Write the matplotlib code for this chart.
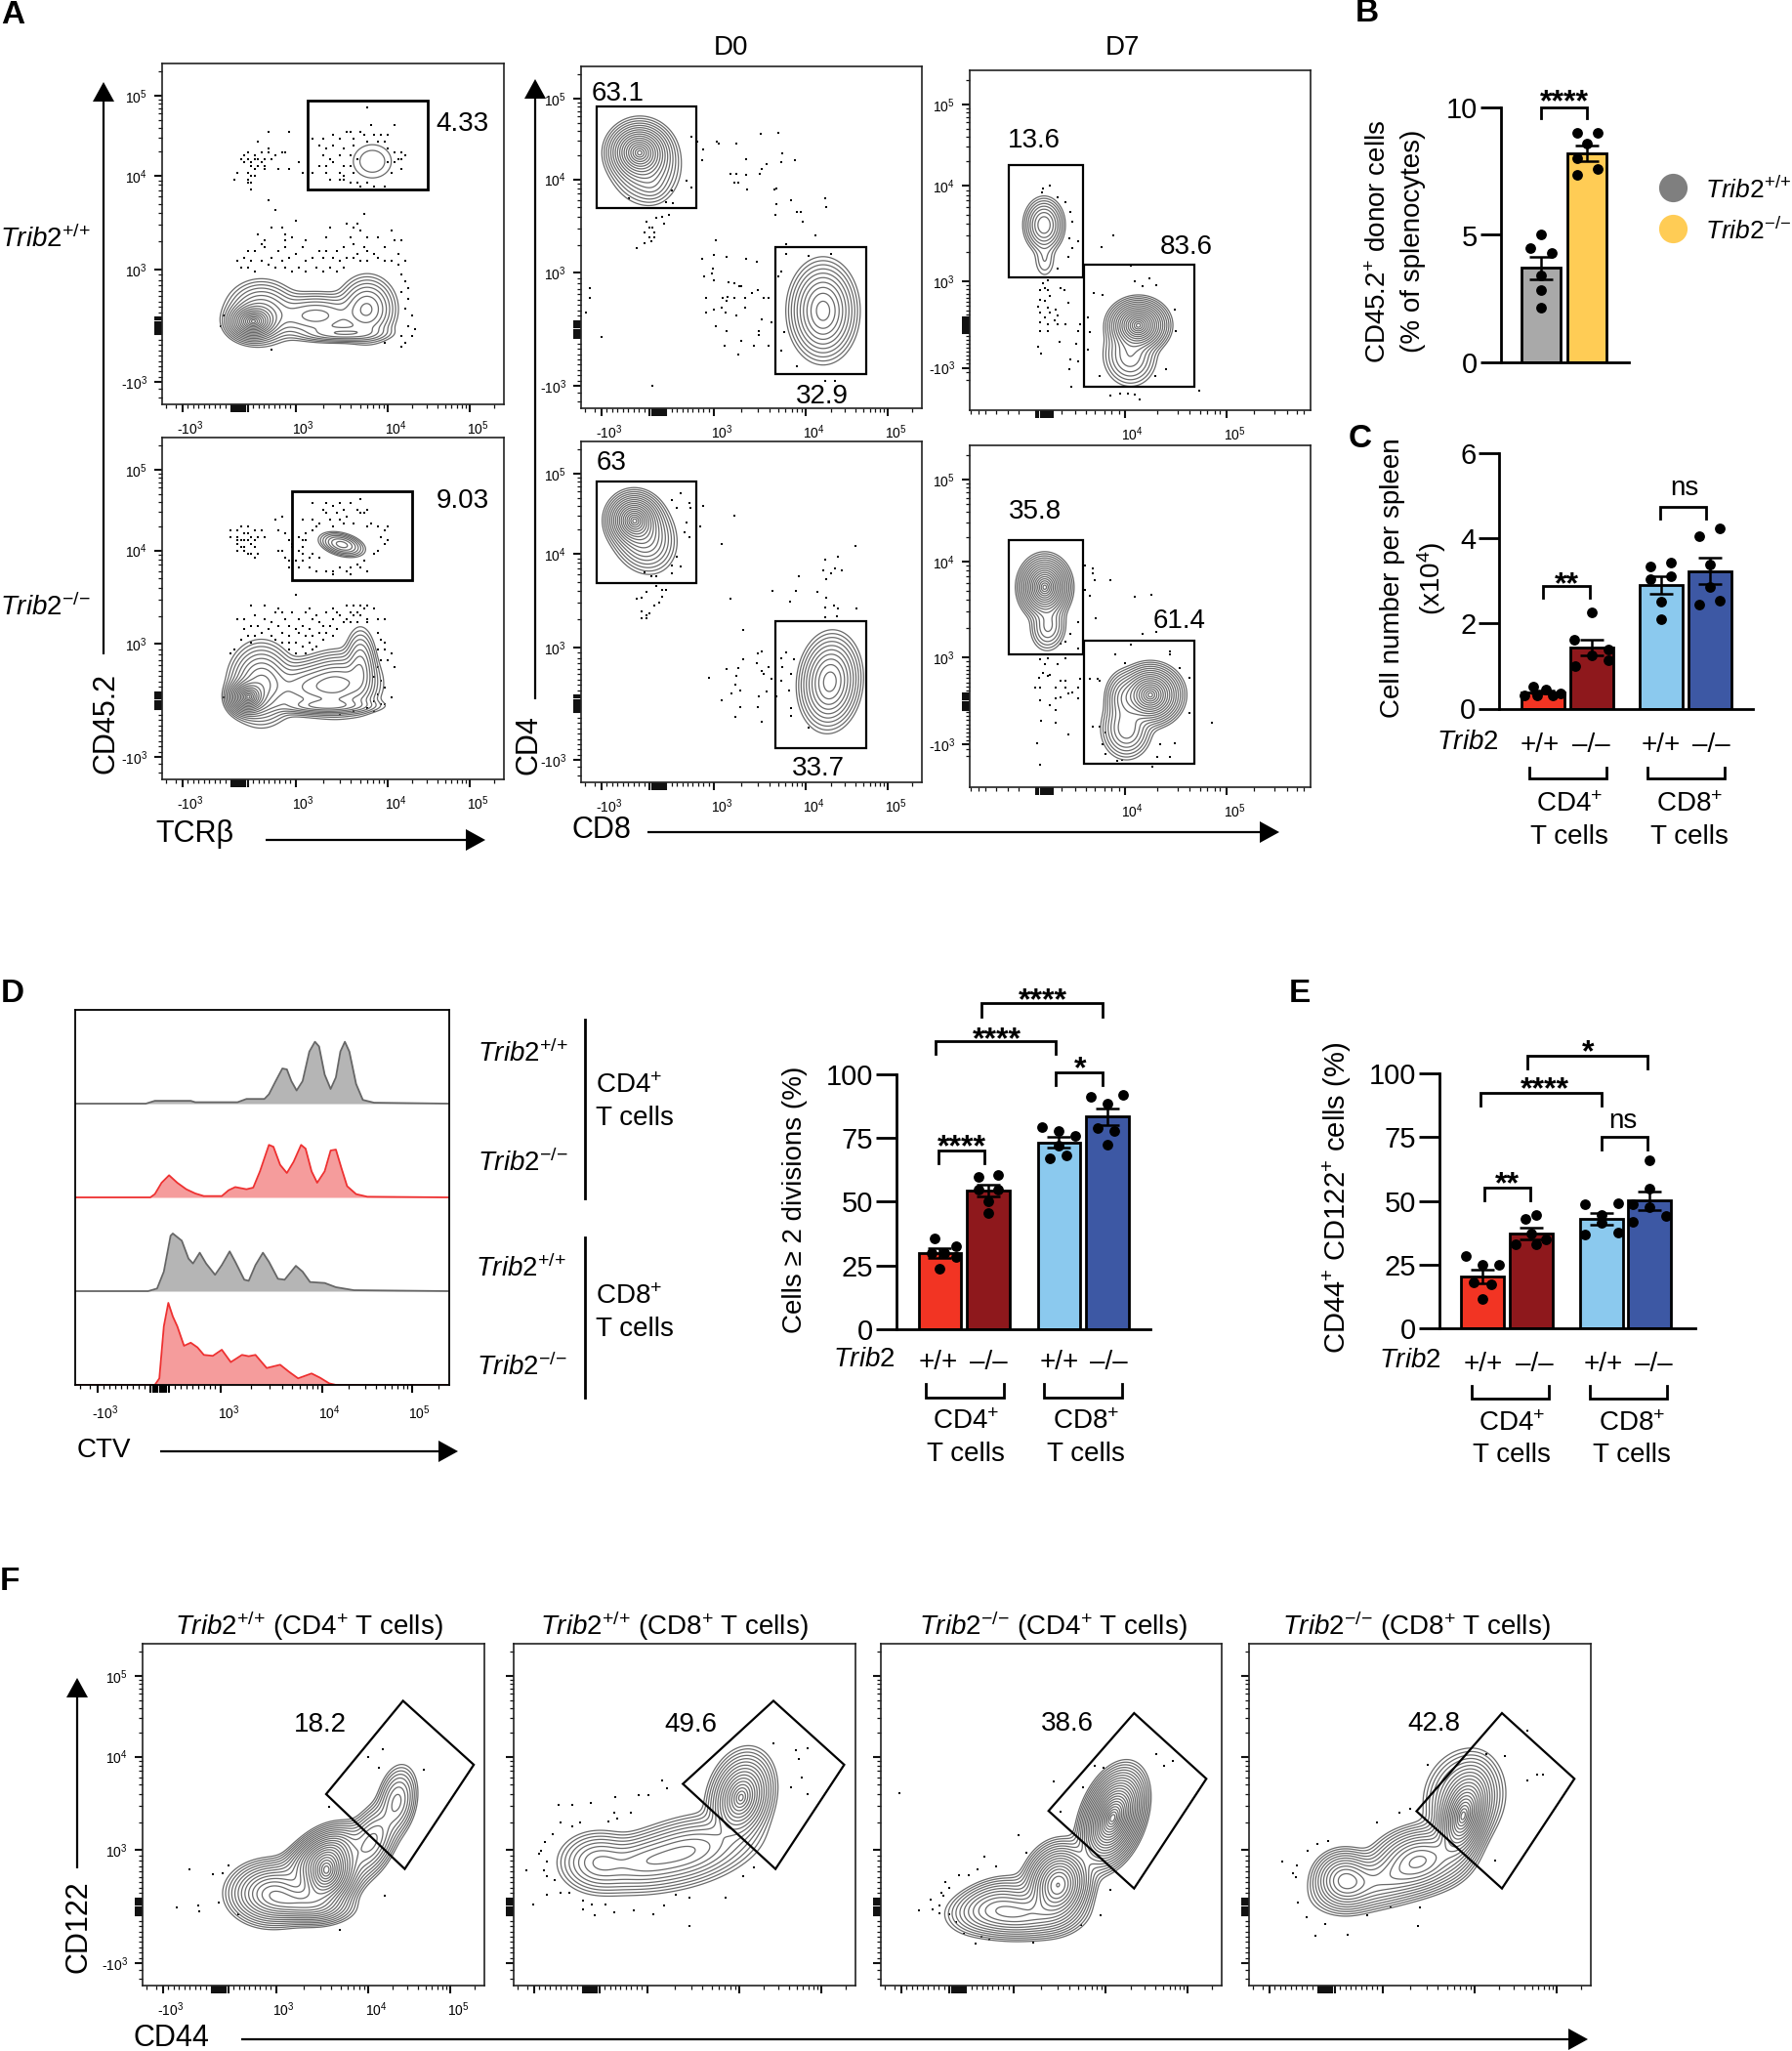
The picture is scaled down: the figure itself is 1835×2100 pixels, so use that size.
import numpy as np
import matplotlib
matplotlib.use("Agg")
import matplotlib.pyplot as plt
from matplotlib.transforms import ScaledTranslation

plt.rcParams['font.family'] = 'Liberation Sans'
plt.rcParams['mathtext.fontset'] = 'custom'
plt.rcParams['mathtext.rm'] = 'Liberation Sans'
plt.rcParams['mathtext.it'] = 'Liberation Sans:italic'
plt.rcParams['mathtext.bf'] = 'Liberation Sans:bold'

W, H = 1835, 2100

# ---- bar data ----
B_MEANS = [3.7, 8.2]
B_SEM = [0.45, 0.31]
B_POS = [0, 1]
B_DOTS = [[(0, 5.0), (-0.24, 4.5), (0.23, 4.3), (0, 3.4), (0, 2.85), (0, 2.15)],
          [(-0.21, 9.0), (0.23, 9.0), (0, 8.6), (-0.21, 8.0), (0.23, 7.6), (-0.21, 7.35)]]
B_COLORS = ['#A9A9A9', '#FFCC55']

C_MEANS = [0.39, 1.43, 2.9, 3.23]
C_SEM = [0.04, 0.19, 0.21, 0.31]
C_POS = [0, 1, 2.42, 3.42]
C_DOTS = [[(-0.21, 0.52), (-0.38, 0.3), (0.06, 0.45), (-0.13, 0.3), (0.2, 0.3), (0.35, 0.36)],
          [(0, 2.27), (-0.36, 1.61), (0.34, 1.39), (0, 1.24), (-0.34, 1.0), (0.33, 1.13)],
          [(-0.23, 3.33), (0.19, 3.42), (-0.23, 3.05), (0.19, 3.11), (0, 2.52), (0, 2.1)],
          [(0.19, 4.23), (-0.23, 4.04), (0, 3.39), (0, 2.85), (-0.23, 2.45), (0.19, 2.53)]]

D_MEANS = [29.8, 54.3, 73.2, 83.4]
D_SEM = [1.8, 2.3, 2.1, 3.2]
D_POS = [0, 1, 2.46, 3.46]
D_DOTS = [[(-0.11, 35.5), (0.33, 32.7), (-0.16, 29.8), (0.09, 29.8), (0.33, 28.2), (0, 23.6)],
          [(-0.21, 59.8), (0.21, 60.4), (-0.21, 54.7), (0.21, 54.7), (0, 50.2), (0, 45.7)],
          [(-0.36, 79.3), (0, 77.6), (0.33, 75.7), (0, 71.9), (0.16, 68.3), (-0.19, 67)],
          [(-0.35, 91), (0.33, 92), (0, 88.5), (-0.2, 78.9), (0.15, 77.6), (0, 72.5)]]

E_MEANS = [20.5, 37.4, 43, 50.1]
E_SEM = [2.6, 2.3, 2.2, 3.6]
E_POS = [0, 1.02, 2.46, 3.46]
E_DOTS = [[(-0.34, 28.4), (0, 25), (0.35, 25), (-0.18, 18.2), (0.18, 17.3), (0, 11.6)],
          [(0.09, 44.5), (-0.12, 43), (0, 37.4), (-0.32, 32.9), (0.3, 35), (0.1, 32.9)],
          [(-0.34, 48.9), (0.34, 49.1), (0, 44.4), (0, 41.3), (-0.34, 37), (0.34, 37.8)],
          [(0, 65.8), (0, 55), (-0.34, 48.9), (0, 47.6), (0.33, 44), (-0.34, 41.8)]]
GROUP_COLORS = ['#F23423', '#8E181C', '#8BC9EE', '#3D58A4']

# ---- histograms, panel D: channel, height ----
H1_X = [0, 18.9, 21.3, 30.9, 32.1, 43.4, 45.8, 50.6, 51.8, 53.6, 55.4, 56.6, 57.8, 59.2, 60.8, 62.6, 64.1, 65.2, 66.7,
        68.3, 69.7, 70.9, 72.1, 73.3, 75.1, 76.9, 79.9, 100]
H1_Y = [0, 0, 3, 3, 1.5, 1.5, 5, 5, 10, 24, 37.5, 36.5, 24, 14, 24, 55.5, 66, 61, 31, 15.6, 28, 55.5, 66, 55.5, 21, 4, 1, 0]
H2_X = [0, 20.1, 21.3, 23.1, 25.1, 27.3, 29.7, 32.1, 34.4, 39.2, 41, 42.8, 45.8, 47.6, 49.4, 51.8, 53, 54.8, 56.6, 58.4,
        60.4, 61.6, 63.2, 64.7, 66.7, 68.3, 69.7, 71.2, 72.7, 75.1, 78.1, 100]
H2_Y = [0, 0, 3.5, 15.6, 23.6, 15.6, 8.7, 4.2, 1.4, 1.4, 7.6, 11, 8.7, 10.4, 27.8, 56, 54, 34.7, 26, 38, 56, 52, 27.8,
        15.6, 27.8, 50, 51, 31, 12, 3.5, 0.7, 0]
H3_X = [0, 19.5, 21.9, 23.7, 25.5, 26.1, 28.5, 30.3, 31.5, 33.3, 35, 37.4, 39.2, 41.3, 42.8, 45.2, 46.4, 48.2, 50.2,
        51.8, 54.2, 56, 59, 60.8, 62.8, 66.7, 69.7, 74.5, 100]
H3_Y = [0, 0, 2.8, 20.8, 59, 61.5, 53.8, 34.7, 29.5, 41, 29.5, 17.4, 27.8, 42.4, 31.3, 12.2, 11, 27.8, 41, 31.3, 13.2,
        12.2, 27, 20.8, 9.7, 8.7, 4.2, 1, 0]
H4_X = [0, 21.3, 22.5, 23.7, 24.9, 26.1, 27.3, 29.1, 30.9, 32.7, 34.4, 36.8, 39.2, 41.6, 44.6, 46.4, 48.2, 51.2, 54.8,
        57.2, 59.6, 63.2, 65.5, 67.9, 69.7, 100]
H4_Y = [0, 0, 7, 62.5, 87.5, 73, 62.5, 41.7, 45, 40, 32, 31, 37.5, 24.3, 32, 30.6, 32, 18, 21.5, 13.9, 7, 12.2, 7.6,
        1.7, 0, 0]

# ---- flow axes tick channels: -10^3, 0, 10^3, 10^4, 10^5 ----
STD_X = [5.9, 22.6, 39, 66, 90]
STD_Y = [6.5, 23, 39.6, 67, 90.6]
D7_Y = [12.5, 25, 38, 66, 90]
D7_X = [22, 45.5, 75.5]
D7_X_MINOR = [0.3, 2.5, 4.7, 7.6, 11.2, 14.2, 27, 31, 34, 36.6, 39.5, 41.6, 43.8, 55, 61, 64.5, 67.5, 69.7, 71.9, 73.4,
              83.5, 89.4, 93, 96, 98]
STD_LABELS = ['-10^3', '0', '10^3', '10^4', '10^5']
D7_X_LABELS = ['0', '10^4', '10^5']

# ---- flow populations: centre x, y, sd x, sd y, tilt, weight ----
A1_PEAKS = [(26.5, 24.2, 3, 2.2, 0, 1), (29, 27, 4.5, 4, 0, 0.25), (45, 26, 6.5, 3, 0, 0.2), (60, 28, 3.7, 4.2, 0, 0.25),
            (53, 20.8, 6, 1.2, 0, 0.15), (61.5, 71.3, 4.1, 3.6, 0, 0.03)]
A2_PEAKS = [(25, 24, 2.4, 2.2, 0, 1), (29, 28, 4, 5, 0, 0.35), (43, 27, 6, 3.5, 0, 0.22), (52, 28, 5, 4, 0, 0.3),
            (58, 33, 2.1, 5, 0, 0.18), (48, 21.5, 7, 1.1, 0, 0.2), (52.6, 68.7, 3, 1.45, -15, 0.2)]
D0T_PEAKS = [(17, 75, 3.5, 3.2, 0, 1), (18.5, 72, 4.2, 5, 15, 0.3), (21, 65, 2.2, 2.2, 0, 0.03), (71, 28.5, 4, 5.8, 0, 0.5)]
D0B_PEAKS = [(15.5, 77, 3, 3, 0, 1), (18, 73, 3.7, 4.8, 25, 0.35), (73, 29.5, 3.6, 5.6, -5, 0.5)]
D7T_PEAKS = [(21.8, 54.5, 2.5, 3.4, 0, 0.28), (22, 44, 1.8, 3, 0, 0.03), (49.5, 25, 3.4, 3, 0, 1), (47, 16, 3.5, 4, 5, 0.15)]
D7B_PEAKS = [(22, 58.5, 2.9, 3.5, 0, 1), (23, 47, 2.4, 3.3, -5, 0.12), (53, 27, 3.6, 3.4, 0, 1), (46, 17, 3.2, 3.8, 0, 0.2),
             (45, 26, 2.4, 3.5, 0, 0.15)]
F1_PEAKS = [(54, 33, 3.8, 5, -25, 1), (38, 27, 5.5, 4, 0, 0.4), (47, 24, 6, 2.5, -5, 0.3), (52, 38, 6, 2.8, 30, 0.3),
            (67, 42, 3, 5.5, -25, 0.2), (74.5, 54, 2.6, 4.8, -10, 0.15)]
F2_PEAKS = [(66.5, 55, 3.5, 5.2, -15, 1), (50, 39, 9, 4, 15, 0.35), (25, 36, 5, 3.8, 0, 0.25), (37, 36, 6, 3.5, 10, 0.18)]
F3_PEAKS = [(68, 49, 3.4, 6, -20, 1), (52, 29.5, 4, 5, -15, 0.7), (40, 21, 8, 3.3, 0, 0.25), (33, 24, 6, 3.5, 20, 0.1)]
F4_PEAKS = [(62.5, 49, 3, 6, -15, 1), (28, 31, 4, 3.7, 0, 0.35), (50, 37, 6, 4, 10, 0.4), (40, 31, 9, 3.5, 15, 0.2),
            (63, 55, 5, 6, -15, 0.2)]

# ---- single events ----
A1_DOTS = [(28, 77), (31, 80), (37, 80), (31, 75), (25, 74), (27, 73), (29, 74), (31, 74), (33, 73), (35, 74), (36, 74), (24, 73),
           (25, 72), (26, 71), (27, 72), (28, 72), (29, 71), (30, 72), (32, 72), (23, 72), (24, 71), (26, 70), (27, 69), (28, 70),
           (30, 70), (25, 68), (26, 67), (25, 66), (27, 67), (30, 69), (37, 69), (34, 69), (22, 68), (21, 66), (25, 65), (26, 65),
           (26, 63), (31, 60), (33, 57), (40, 71), (41, 68), (60, 87), (61, 82), (68, 82), (55, 80), (47, 78), (54, 80), (58, 80),
           (59, 79), (62, 79), (64, 79), (66, 79), (50, 79), (52, 78), (56, 78), (60, 77), (63, 77), (65, 77), (44, 78), (46, 76),
           (50, 76), (48, 75), (53, 75), (56, 76), (66, 75), (68, 74), (70, 74), (71, 73), (47, 73), (49, 72), (52, 73), (55, 73),
           (57, 72), (69, 72), (46, 70), (48, 70), (50, 71), (53, 70), (55, 70), (66, 71), (68, 71), (70, 72), (44, 68), (48, 68),
           (52, 68), (53, 67), (56, 68), (67, 68), (70, 69), (49, 66), (52, 66), (53, 66), (55, 65), (57, 65), (58, 64), (60, 65),
           (62, 64), (65, 64), (59, 56), (35, 52), (39, 54), (32, 52), (36, 50), (49, 52), (54, 53), (56, 52), (57, 53), (58, 51),
           (28, 50), (29, 47), (30, 48), (36, 48), (38, 49), (42, 48), (48, 49), (55, 49), (56, 47), (60, 49), (63, 49), (67, 51),
           (68, 48), (70, 48), (25, 45), (27, 45), (30, 46), (34, 45), (36, 46), (39, 44), (41, 46), (46, 45), (48, 45), (51, 45),
           (53, 46), (57, 44), (59, 46), (60, 45), (62, 44), (65, 46), (69, 44), (22, 42), (24, 43), (26, 42), (29, 42), (32, 43),
           (35, 42), (37, 43), (42, 42), (44, 43), (47, 43), (50, 43), (52, 42), (54, 43), (56, 43), (58, 42), (60, 42), (63, 43),
           (65, 42), (67, 42), (69, 41), (71, 42), (23, 40), (25, 40), (27, 39), (31, 41), (33, 40), (36, 40), (38, 39), (40, 40),
           (42, 39), (45, 40), (47, 39), (49, 40), (51, 39), (53, 40), (70, 38), (71, 36), (72, 34), (72, 31), (70, 33), (71, 28),
           (73, 26), (72, 23), (74, 22), (73, 20), (70, 20), (71, 18), (70, 17), (32, 16), (65, 18), (18, 26), (17, 23)]
A2_DOTS = [(22, 73), (23, 74), (25, 74), (27, 73), (29, 73), (20, 73), (22, 71), (24, 72), (25, 72), (26, 71), (28, 71), (30, 71),
           (20, 71), (22, 70), (23, 70), (24, 70), (25, 70), (27, 70), (22, 69), (23, 68), (24, 68), (26, 69), (27, 68), (22, 67),
           (24, 67), (25, 66), (26, 66), (27, 65), (28, 66), (33, 76), (35, 77), (37, 70), (34, 73), (36, 72), (38, 69), (34, 67),
           (35, 67), (36, 65), (37, 64), (37, 62), (38, 68), (40, 67), (39, 64), (41, 66), (40, 62), (43, 62), (45, 61), (48, 61),
           (50, 60), (52, 62), (55, 62), (58, 62), (60, 61), (55, 60), (50, 61), (54, 61), (41, 64), (43, 65), (41, 70), (42, 72),
           (44, 73), (46, 75), (41, 76), (44, 81), (47, 79), (48, 81), (50, 80), (52, 81), (48, 78), (51, 78), (53, 79), (55, 81),
           (57, 79), (58, 82), (58, 78), (49, 76), (52, 76), (54, 77), (56, 75), (59, 78), (60, 79), (44, 76), (45, 74), (50, 74),
           (53, 75), (60, 74), (61, 75), (63, 74), (65, 73), (66, 74), (64, 71), (65, 69), (66, 70), (63, 67), (62, 66), (59, 64),
           (57, 63), (42, 70), (40, 71), (41, 68), (44, 66), (46, 65), (39, 54), (26, 51), (30, 51), (34, 50), (35, 49), (43, 50),
           (50, 50), (51, 49), (54, 51), (56, 51), (58, 51), (60, 51), (62, 50), (55, 49), (57, 49), (59, 50), (33, 49), (38, 49),
           (42, 49), (45, 48), (48, 49), (52, 48), (54, 47), (56, 48), (58, 48), (60, 47), (63, 47), (65, 47), (22, 47), (24, 47),
           (27, 48), (30, 47), (32, 46), (36, 47), (40, 47), (44, 47), (46, 46), (50, 47), (53, 46), (55, 46), (57, 46), (60, 46),
           (24, 44), (26, 45), (28, 45), (31, 44), (34, 45), (37, 45), (39, 44), (41, 45), (43, 44), (47, 45), (49, 45), (51, 44),
           (25, 42), (27, 42), (29, 43), (32, 42), (35, 43), (37, 42), (40, 43), (42, 42), (44, 42), (46, 43), (48, 43), (50, 42),
           (23, 41), (26, 40), (33, 41), (35, 40), (37, 40), (39, 40), (41, 39), (43, 40), (45, 39), (47, 41), (20, 37), (21, 38),
           (37, 38), (39, 37), (42, 37), (44, 38), (63, 43), (64, 41), (65, 40), (63, 38), (65, 38), (67, 37), (68, 33), (64, 35),
           (63, 33), (66, 35), (62, 30), (64, 29), (65, 27), (67, 24), (63, 25), (62, 23), (64, 22), (60, 21), (62, 20), (65, 22),
           (52, 19), (56, 20), (18, 24)]
D0T_DOTS = [(52.8, 80.4), (57.9, 80.7), (39.8, 78), (40.5, 77.4), (45.6, 77.4), (34.2, 78), (35.8, 75.7), (33.9, 72.8), (35.4, 72.5),
            (59, 74.5), (48.5, 73), (58.8, 72), (62.7, 72.5), (54.4, 71.4), (52.9, 70), (43.9, 68.7), (45.6, 68.7), (48.5, 68.3),
            (52.5, 68.5), (44.9, 66), (46, 66), (48.8, 64), (56.6, 64), (57.3, 64.2), (61.7, 60.9), (57.3, 59.6), (71.6, 61.4),
            (71.9, 59), (63.2, 57.3), (64.6, 57.3), (56.9, 56.6), (65, 54.7), (68.7, 50.7), (60.2, 48), (39.5, 49.1), (19.3, 54.7),
            (22.2, 55.8), (23.7, 56.1), (25.9, 56.6), (24.4, 53.9), (20, 52.8), (21, 52.8), (18.6, 51.3), (21.5, 51.3), (20, 49.9),
            (21.5, 49.9), (20.5, 49), (18.6, 48.3), (16.4, 46.9), (35.4, 43.7), (39, 44.8), (42.7, 44.2), (48.5, 43.7), (51.5, 42.9),
            (38.6, 41), (38.3, 39.4), (39, 37.5), (43.4, 37), (44.9, 36.5), (47.1, 35.8), (46.3, 35.6), (36.1, 38.7), (36.8, 32.3),
            (41.5, 32.3), (43, 32.7), (44.9, 32.3), (42.7, 31.3), (48.2, 32.3), (50, 33.7), (51.9, 34.6), (53.7, 32.3), (55.1, 32.3),
            (39, 28.9), (36.8, 28), (41.2, 29.4), (42.4, 28), (45.6, 27.2), (48.2, 29.4), (52.9, 26), (55.8, 25.1), (39.5, 24),
            (42.7, 22.7), (52.2, 22.7), (52.2, 21.5), (47.1, 19.8), (42, 18.4), (50.7, 18.4), (55.1, 18.4), (46, 15.6), (6.1, 20.8),
            (2.5, 35.1), (2.5, 32.3), (1.3, 28.1), (21, 6.5), (71.6, 7.9), (74.4, 8.1), (58, 38.5), (58.8, 39.9), (59.5, 22.2),
            (63.2, 12.2), (58.8, 17), (60.2, 45.1), (73.4, 45.1), (66.8, 44.5), (13.9, 61.5), (26.6, 63.7), (31, 66.6), (32.5, 64.7),
            (32.5, 79.5), (25, 60.4), (26.9, 59.9)]
D0B_DOTS = [(29.2, 84.7), (26.6, 82.8), (31.7, 81.9), (35.8, 81.1), (28.1, 80.4), (32.2, 80.4), (44.9, 78.3), (34.9, 75.2), (31, 76.1),
            (30.4, 73.3), (31.7, 71.9), (41.2, 69.8), (28.1, 66.1), (29.2, 63.3), (26.6, 63.7), (18.6, 61.5), (20.5, 60.4), (22.2, 60.4),
            (26.6, 61.4), (22.2, 57.5), (23.7, 56.4), (24.9, 56.4), (19.3, 55.8), (17.8, 54.2), (16.4, 53.9), (23.7, 54.5), (23, 52.8),
            (21.5, 51.8), (17.8, 50.1), (20, 49.7), (19.3, 49), (17.8, 48), (19.3, 48), (43.7, 53.9), (56.1, 56.2), (62.9, 56.1),
            (61.3, 53), (63.9, 60.4), (69.3, 55.9), (71.2, 62.3), (71.6, 65.2), (75.3, 66.3), (80.4, 69.2), (74.4, 62.8), (76.6, 62.3),
            (71.9, 59.6), (73.4, 61.4), (71.9, 54.2), (71.6, 51.3), (74.1, 51.8), (75.3, 51), (80.7, 50.9), (71.5, 48.3), (75.1, 48.7),
            (47.5, 44.8), (52.9, 38.5), (51.8, 37.8), (47.5, 36.1), (51.5, 35.1), (42.7, 33.1), (46.1, 33.4), (52.9, 32.7), (55.1, 33.7),
            (37.6, 30.8), (45.6, 31.3), (53.7, 31.8), (55.8, 30.3), (45.3, 28.7), (46.6, 27), (44.2, 26), (41.2, 24.1), (54.4, 26.7),
            (52.2, 25.1), (57.3, 25.3), (46.6, 22.2), (51.9, 22.2), (45.2, 19.1), (52.9, 17.8), (60.2, 38), (58.8, 36.5), (62.4, 36.1),
            (59.1, 33.7), (61.7, 31.8), (58.8, 29.9), (61, 27), (61.7, 21.8), (61.7, 19.4), (66.8, 16)]
D7T_DOTS = [(42.2, 51.5), (38.7, 48), (23.6, 66.2), (21.5, 65.1), (21.2, 64.1), (25.8, 62.7), (28, 61.2), (29.5, 58.4), (30.2, 55.5),
            (29.2, 50.7), (31.7, 49.8), (30.2, 47.8), (28.8, 45), (25.8, 41.6), (22.9, 38.3), (21.5, 37.3), (22.2, 35.9), (20.7, 35.4),
            (22.9, 35.4), (26.6, 35.9), (27.7, 35.4), (23.6, 33.5), (20.7, 32.5), (22.2, 32.1), (28.8, 31.6), (20, 30.6), (22.9, 30.1),
            (25.1, 29.7), (20.7, 28.7), (23.6, 28.7), (25.8, 27.8), (22.2, 27.3), (24.8, 26.3), (20.7, 25.8), (22.9, 25.4), (25.8, 25.4),
            (28, 25.4), (32.4, 25.4), (20.7, 23.4), (22.9, 23.4), (26.3, 20.1), (20, 18.7), (21, 16.7), (31.7, 23.4), (31.2, 19.6),
            (29.5, 14.8), (31.7, 14.4), (29.2, 12), (29.8, 6.9), (36.5, 34.4), (39, 34), (48.5, 37.8), (50.7, 36.4), (52.8, 38.8),
            (54.7, 36.8), (60.1, 29.7), (60.6, 23.4), (66, 20.6), (34.6, 27.3), (35.3, 23), (34.6, 17.7), (38.2, 10), (54.3, 10),
            (57.5, 12), (47.3, 42.6), (41.2, 4.3), (44.1, 5), (46.3, 4.8), (48.5, 4.6), (49.9, 3.3), (67.2, 5.7)]
D7B_DOTS = [(33.9, 65), (36.1, 64), (36.1, 62.6), (36.8, 60.7), (41.2, 60.5), (33.9, 57.8), (35.3, 55.9), (48.5, 55.7), (53.3, 56.2),
            (37.1, 49.5), (31.7, 48.3), (29.5, 44.9), (28, 42.6), (31.7, 40.7), (26.6, 42.1), (50.7, 44.8), (54.7, 45.4), (47.3, 41.6),
            (58.7, 39.7), (42.6, 38.8), (45.5, 36.4), (21.5, 38.8), (20.7, 37.3), (22.9, 37.8), (22.2, 35.9), (28, 37.8), (25.8, 35.9),
            (21.5, 33.5), (23.6, 33), (22.9, 32.6), (20.3, 32.1), (26.6, 31.1), (28, 31.1), (32.4, 31.6), (19.3, 29.2), (20.7, 29.2),
            (25.1, 29.2), (28, 29.2), (31.7, 29.2), (30.2, 27.8), (20.7, 25.4), (25.1, 25.9), (26.6, 26.2), (28.8, 27.3), (31.7, 25.9),
            (25.1, 22.6), (23.6, 24), (21, 19.5), (25.1, 18.8), (28.8, 15.4), (19.7, 12.9), (20.7, 6.7), (35.3, 31.6), (38.2, 31.1),
            (37.5, 31.6), (58.7, 38.8), (61.6, 35), (64.5, 32.1), (64.5, 21.6), (71.1, 19), (36.1, 17.8), (38.2, 17.8), (39.7, 15.9),
            (39, 12.6), (39.7, 9.7), (55.8, 12.6), (60.1, 13), (55, 8.8), (58.7, 8.8), (43.4, 7.8), (44.8, 8.1), (53.6, 5.9)]
F1_DOTS = [(70.3, 69.2), (66, 67), (69, 63.8), (82.4, 63.1), (54.7, 52.2), (13.6, 34.1), (20.5, 32.6), (23.5, 32.9), (25.1, 35.2),
           (9.9, 22.9), (16.4, 23.3), (16.7, 21.6), (22.2, 24.3), (27.9, 21), (57.8, 16.2), (70.9, 26.2)]
F2_DOTS = [(13, 52.9), (17, 52.9), (22.5, 53.3), (29.8, 55.2), (36.7, 55.7), (39.5, 55.7), (43.3, 60), (44.9, 57.6), (34.3, 50.5),
           (29.3, 50.5), (30.2, 49), (27.7, 48.1), (19.5, 47.6), (13.8, 47.6), (17, 46.7), (11.3, 44.3), (9.2, 41.9), (8, 39.5),
           (7.5, 38.6), (9.7, 36.2), (8.9, 33.8), (3.6, 33.8), (9.7, 31.9), (12.1, 31), (13.8, 27.1), (9.7, 26.7), (5.6, 23.8),
           (16.2, 27.1), (20.3, 24.8), (22.8, 23.8), (20.3, 22.4), (23.6, 20.5), (26.9, 23.8), (29.3, 21.4), (35.1, 21.9), (40.8, 21),
           (44.1, 23.3), (47.4, 26.7), (51.5, 25.7), (62.1, 25.7), (51.5, 17.3), (67, 31.9), (70.3, 34.5), (76, 71), (82.6, 69),
           (85.9, 69.3), (83.4, 66.2), (84.3, 61), (85.9, 56), (81, 58.1)]
F3_DOTS = [(5.4, 56.2), (80.9, 67.6), (85.7, 65.7), (83.2, 64.3), (62.8, 64.3), (65.3, 63.8), (50.7, 59.8), (59.4, 58.1), (52.8, 51),
           (40.4, 44.1), (42.6, 38.9), (30.5, 37.6), (28.3, 34.1), (22.9, 32.2), (25.8, 32.2), (33.9, 34.8), (18.8, 30.2), (20, 28.6),
           (17.8, 27.1), (18.2, 26.2), (14.5, 25.2), (17.1, 23.3), (15.3, 22.4), (11.2, 21.9), (17.1, 21.1), (20, 21), (22.2, 18.6),
           (24.4, 15.2), (29.5, 14.3), (31.7, 13.3), (27.7, 12.2), (44.8, 12.6), (58.7, 17.6), (64.5, 20.5), (67.4, 28.1)]
F4_DOTS = [(81.3, 74.6), (52.2, 64.5), (69.4, 67.6), (74.8, 67.1), (84.3, 61.7), (86, 61.7), (81.3, 60), (47.1, 51.7), (43.9, 50.5),
           (37.3, 47.6), (23, 42.4), (20.1, 41.4), (17.2, 39.5), (9.6, 36.2), (14, 35.2), (12.8, 32.9), (13.6, 31.6), (14.3, 24.3),
           (16.8, 20), (22.3, 18.1), (19.4, 14.6), (28.9, 15), (34.7, 20.5), (41.3, 22.9), (49.3, 17.3), (50, 22.9), (71.9, 36.7)]

# ---- gates ----
A1_GATES = [[(42.6, 63), (77.7, 63), (77.7, 89), (42.6, 89)]]
A2_GATES = [[(37.9, 58.2), (73, 58.2), (73, 84.4), (37.9, 84.4)]]
D0_GATES = [[(4.7, 58.5), (33.9, 58.5), (33.9, 88.3), (4.7, 88.3)], [(57, 10.1), (83.6, 10.1), (83.6, 47.2), (57, 47.2)]]
D7_GATES = [[(11.4, 39), (33.1, 39), (33.1, 72.2), (11.4, 72.2)], [(33.6, 7), (66, 7), (66, 42.9), (33.6, 42.9)]]
F1_GATES = [[(76.2, 83.3), (96.9, 64.6), (76.7, 34.1), (53.7, 56)]]
F2_GATES = [[(76, 83.3), (96.7, 64.6), (76.6, 34.1), (49.5, 59)]]
F3_GATES = [[(74.3, 79.7), (95.5, 60.5), (74.3, 28.4), (49.2, 51.1)]]
F4_GATES = [[(74, 79.7), (95.2, 60.5), (74, 28.4), (49, 51)]]

fig = plt.figure(figsize=(W / 100, H / 100), dpi=100)


def add_axes_px(x0, y0, x1, y1):
    return fig.add_axes([x0 / W, 1 - y1 / H, (x1 - x0) / W, (y1 - y0) / H])


def tick_text(s):
    if s == '0':
        return '0'
    if s.startswith('-'):
        return r'-$\mathregular{10^{%s}}$' % s[-1]
    return r'$\mathregular{10^{%s}}$' % s[-1]


def minor_from_majors(m):
    # m: -10^3, 0, 10^3, 10^4, 10^5 channels
    out = []
    for k in range(1, 9):
        out.append(m[0] + (m[1] - m[0]) * k / 9 * 0.85)
        out.append(m[1] + (m[2] - m[1]) * (k / 9 * 0.85 + 0.15))
    for a, b in [(m[2], m[3]), (m[3], m[4])]:
        for k in range(2, 10):
            out.append(a + (b - a) * np.log10(k))
    for k in range(2, 4):
        out.append(m[4] + (m[4] - m[3]) * np.log10(k))
    for k in [2, 5]:
        out.append(m[0] - (m[1] - m[0]) * k / 9 * 0.5)
    return out


def zero_cluster(z):
    return [z + d for d in np.arange(-2.4, 2.5, 0.6)]


def style_flow_axis(ax, which, major, labels, minor=None):
    axis = ax.xaxis if which == 'x' else ax.yaxis
    zero = major[labels.index('0')]
    if minor is None:
        minor = minor_from_majors(major)
    minor = [v for v in minor if 0 <= v <= 100]
    axis.set_ticks(list(major) + zero_cluster(zero))
    axis.set_ticks(minor, minor=True)
    return zero


def flow_panel(rect, peaks, dots, gates, xt, yt, xlab=True, ylab=True, xminor=None, xlabels=None, n_levels=17,
               gate_lw=1.6):
    ax = add_axes_px(*rect)
    ax.set_xlim(0, 100)
    ax.set_ylim(0, 100)
    xx, yy = np.meshgrid(np.linspace(0, 100, 500), np.linspace(0, 100, 500))
    z = np.zeros_like(xx)
    for cx, cy, sx, sy, rot, w in peaks:
        a = np.deg2rad(rot)
        u = (xx - cx) * np.cos(a) + (yy - cy) * np.sin(a)
        v = -(xx - cx) * np.sin(a) + (yy - cy) * np.cos(a)
        z += w * np.exp(-0.5 * (u ** 2 / sx ** 2 + v ** 2 / sy ** 2))
    # rings evenly spaced in radius, like the equal-probability contours of the cytometry software
    big_r = np.sqrt(2 * np.log(z.max() / 0.012))
    levels = z.max() * np.exp(-0.5 * np.linspace(big_r, 0.18, n_levels) ** 2)
    ax.contour(xx, yy, z, levels=levels, colors='#6a6a6a', linewidths=0.9)
    ax.scatter([p[0] for p in dots], [p[1] for p in dots], s=1.7, c='black', marker='s', linewidths=0)
    for g in gates:
        ax.fill([p[0] for p in g], [p[1] for p in g], fill=False, edgecolor='black', linewidth=gate_lw, zorder=4)
    xl = xlabels if xlabels is not None else STD_LABELS
    style_flow_axis(ax, 'x', xt, xl, xminor)
    style_flow_axis(ax, 'y', yt, STD_LABELS)
    n0 = len(xt)
    ax.set_xticklabels([tick_text(s) for s in xl] + [''] * 9 if xlab else [''] * (n0 + 9))
    ax.set_yticklabels([tick_text(s) for s in STD_LABELS] + [''] * 9 if ylab else [''] * 14)
    ax.tick_params(which='major', length=6, width=1.5, labelsize=10, pad=5, color='#111111')
    ax.tick_params(which='minor', length=3, width=0.9, color='#111111')
    off = ScaledTranslation(8 / 100, 0, fig.dpi_scale_trans)
    for lab in ax.get_xticklabels():
        lab.set_transform(lab.get_transform() + off)
    for s in ax.spines.values():
        s.set_linewidth(1.2)
        s.set_color('#222222')
    return ax


def bar_panel(x0, y_zero, x1, y_top, ymax, yticks, c0, unit, pos, means, sem, dots, colors, width=0.88):
    ax = add_axes_px(x0, y_top, x1, y_zero)
    ax.set_xlim((x0 - c0) / unit, (x1 - c0) / unit)
    ax.set_ylim(0, ymax)
    ax.patch.set_alpha(0)
    ax.bar(pos, means, width=width, color=colors, edgecolor='black', linewidth=2, zorder=2)
    for p, pts in zip(pos, dots):
        ax.plot([p + d[0] for d in pts], [d[1] for d in pts], 'o', color='black', ms=7.8, mew=0, zorder=3)
    ax.errorbar(pos, means, yerr=sem, fmt='none', ecolor='black', elinewidth=1.8, capsize=8.5, capthick=1.8, zorder=4)
    ax.spines['top'].set_visible(False)
    ax.spines['right'].set_visible(False)
    ax.spines['left'].set_linewidth(2)
    ax.spines['bottom'].set_linewidth(2)
    ax.set_xticks([])
    ax.set_yticks(yticks)
    ax.tick_params(axis='y', length=15, width=2, labelsize=21, pad=2)
    return ax


# flow panels
flow_panel((166, 65, 516, 414), A1_PEAKS, A1_DOTS, A1_GATES, STD_X, STD_Y, gate_lw=2)
flow_panel((166, 448, 516, 798), A2_PEAKS, A2_DOTS, A2_GATES, STD_X, STD_Y, gate_lw=2)
flow_panel((595, 68, 944, 418), D0T_PEAKS, D0T_DOTS, D0_GATES, STD_X, STD_Y)
flow_panel((595, 452, 944, 801), D0B_PEAKS, D0B_DOTS, D0_GATES, STD_X, STD_Y)
flow_panel((993, 72, 1342, 420), D7T_PEAKS, D7T_DOTS, D7_GATES, D7_X, D7_Y, xminor=D7_X_MINOR, xlabels=D7_X_LABELS)
flow_panel((993, 456, 1342, 806), D7B_PEAKS, D7B_DOTS, D7_GATES, D7_X, D7_Y, xminor=D7_X_MINOR, xlabels=D7_X_LABELS)
flow_panel((146, 1683, 496, 2033), F1_PEAKS, F1_DOTS, F1_GATES, STD_X, STD_Y, n_levels=21)
flow_panel((526, 1683, 876, 2033), F2_PEAKS, F2_DOTS, F2_GATES, STD_X, STD_Y, xlab=False, ylab=False, n_levels=16)
flow_panel((902, 1683, 1251, 2033), F3_PEAKS, F3_DOTS, F3_GATES, STD_X, STD_Y, xlab=False, ylab=False, n_levels=22)
flow_panel((1279, 1683, 1629, 2033), F4_PEAKS, F4_DOTS, F4_GATES, STD_X, STD_Y, xlab=False, ylab=False, n_levels=20)

# histogram panel D
ax = add_axes_px(77, 1034, 460, 1418)
ax.set_xlim(0, 100)
ax.set_ylim(0, 400)
for (hx, hy, off, line, fill) in [(H1_X, H1_Y, 300, '#666666', '#B5B5B5'), (H2_X, H2_Y, 200, '#EE3030', '#F59C9C'),
                                  (H3_X, H3_Y, 100, '#666666', '#B5B5B5'), (H4_X, H4_Y, 0, '#EE3030', '#F59C9C')]:
    hy2 = np.array(hy) + off
    ax.fill_between(hx, off, hy2, color=fill, lw=0)
    ax.plot(hx, hy2, color=line, lw=1.3)
ax.set_yticks([])
style_flow_axis(ax, 'x', STD_X, STD_LABELS)
ax.set_xticklabels([tick_text(s) for s in STD_LABELS] + [''] * 9)
ax.tick_params(which='major', length=6, width=1.5, labelsize=10, pad=8)
ax.tick_params(which='minor', length=3, width=0.9)
for lab in ax.get_xticklabels():
    lab.set_transform(lab.get_transform() + ScaledTranslation(8 / 100, 0, fig.dpi_scale_trans))
for s in ax.spines.values():
    s.set_linewidth(1.3)


def dz(zx):
    return 780 + zx * 0.6122


def dy(zy):
    return 1000 + zy * 0.3333


# bar panels
bar_panel(1537, 371, 1668, 110, 10, [0, 5, 10], 1578, 47, B_POS, B_MEANS, B_SEM, B_DOTS, B_COLORS, width=0.85)
bar_panel(1535, 725.5, 1795, 464, 6, [0, 2, 4, 6], 1580, 50, C_POS, C_MEANS, C_SEM, C_DOTS, GROUP_COLORS)
bar_panel(dz(225), dy(1083), dz(650), dy(300), 100, [0, 25, 50, 75, 100], dz(298), 49.6, D_POS, D_MEANS, D_SEM, D_DOTS,
          GROUP_COLORS)
bar_panel(dz(1133), dy(1081), 1736, dy(297), 100, [0, 25, 50, 75, 100], dz(1205), 49.6, E_POS, E_MEANS, E_SEM, E_DOTS,
          GROUP_COLORS)

# overlay for labels, arrows and brackets
top = fig.add_axes([0, 0, 1, 1], zorder=10)
top.set_xlim(0, W)
top.set_ylim(H, 0)
top.axis('off')
top.patch.set_alpha(0)


def txt(x, y, s, size=20, ha='center', va='center', **kw):
    top.text(x, y, s, fontsize=size, ha=ha, va=va, **kw)


def arrow(x0, y0, x1, y1, head_w=22, head_l=20, lw=1.6):
    d = np.array([x1 - x0, y1 - y0], dtype=float)
    d = d / np.hypot(*d)
    n = np.array([-d[1], d[0]])
    tip = np.array([x1, y1])
    base = tip - d * head_l
    top.plot([x0, base[0]], [y0, base[1]], color='black', lw=lw, solid_capstyle='butt')
    tri = np.array([tip, base + n * head_w / 2, base - n * head_w / 2])
    top.fill(tri[:, 0], tri[:, 1], color='black', lw=0)


def bracket(x0, x1, y, y_leg, lw=2):
    top.plot([x0, x0, x1, x1], [y_leg, y, y, y_leg], color='black', lw=lw, solid_joinstyle='miter')


def stars(x, y, s):
    # asterisks sit high in the em box, so place on the baseline
    txt(x, y + 17, s, size=23, va='baseline', fontweight='bold')


TRIB_WT = r'$\mathit{Trib2}^{{+}/{+}}$'
TRIB_KO = r'$\mathit{Trib2}^{{-}/{-}}$'

for letter, x, y in [('A', 13, 15), ('B', 1400, 14), ('C', 1393, 449), ('D', 13, 1017), ('E', 1331, 1017), ('F', 10, 1620)]:
    txt(x, y, letter, size=24, fontweight='bold')

# panel A
txt(473, 127, '4.33')
txt(474, 513, '9.03')
txt(0, 245, TRIB_WT, size=20, ha='left')
txt(0, 622, TRIB_KO, size=20, ha='left')
arrow(106, 670, 106, 84)
txt(108, 740, 'CD45.2', size=22, rotation=90)
txt(199, 854, 'TCR\u03b2', size=22)
arrow(272, 860, 497, 860)
arrow(548, 716, 548, 81)
txt(541, 763, 'CD4', size=22, rotation=90)
txt(616, 850, 'CD8', size=22)
arrow(663, 852, 1310, 852)
txt(748, 49, 'D0', size=20)
txt(1149, 49, 'D7', size=20)
for x, y, s in [(633, 96, '63.1'), (842, 406, '32.9'), (1059, 144, '13.6'), (1215, 253, '83.6'), (626, 474, '63'),
                (838, 787, '33.7'), (1060, 524, '35.8'), (1208, 636, '61.4')]:
    txt(x, y, s)

# panel B
stars(1602, 96, '****')
bracket(1578, 1625, 110, 121)
txt(1412, 247, r'CD45.2$^{+}$ donor cells', size=20, rotation=90)
txt(1447, 247, '(% of splenocytes)', size=20, rotation=90)
top.plot([1713], [192], 'o', color='#7F7F7F', ms=21, mew=0)
top.plot([1713], [234], 'o', color='#FFCC55', ms=21, mew=0)
txt(1746, 194, TRIB_WT, size=19, ha='left')
txt(1746, 236, TRIB_KO, size=19, ha='left')

# panel C
stars(1604, 590, '**')
bracket(1580, 1628, 600, 612)
txt(1725, 500, 'ns', size=20)
bracket(1700, 1747, 519, 531)
txt(1426, 592, 'Cell number per spleen', size=20, rotation=90)
txt(1466, 592, r'(x10$^{4}$)', size=20, rotation=90)
txt(1503, 760, r'$\mathit{Trib2}$', size=20)
for x, s in [(1577, '+/+'), (1629, '\u2013/\u2013'), (1701, '+/+'), (1752, '\u2013/\u2013')]:
    txt(x, 763, s, size=20)
bracket(1566, 1645, 797, 786)
bracket(1687, 1766, 797, 786)
txt(1607, 824, r'CD4$^{+}$', size=20)
txt(1607, 857, 'T cells', size=20)
txt(1730, 824, r'CD8$^{+}$', size=20)
txt(1730, 857, 'T cells', size=20)

# panel D labels
txt(106, 1485, 'CTV', size=20)
arrow(164, 1486, 469, 1486)
for x, y, s in [(489, 1079, TRIB_WT), (489, 1191, TRIB_KO), (487, 1299, TRIB_WT), (488, 1400, TRIB_KO)]:
    txt(x, y, s, ha='left', size=20)
top.plot([599, 599], [1044, 1227], color='black', lw=2)
top.plot([599, 599], [1267, 1431], color='black', lw=2)
txt(610, 1112, r'CD4$^{+}$', ha='left', size=20)
txt(610, 1145, 'T cells', ha='left', size=20)
txt(610, 1328, r'CD8$^{+}$', ha='left', size=20)
txt(610, 1361, 'T cells', ha='left', size=20)

txt(dz(55), dy(685), 'Cells \u2265 2 divisions (%)', size=20, rotation=90)
for x0, x1, y, yl in [(368, 570, 82, 122), (290, 492, 197, 238), (492, 570, 293, 332), (295, 373, 535, 573)]:
    bracket(dz(x0), dz(x1), dy(y), dy(yl))
for x, y, s in [(470, 50, '****'), (393, 168, '****'), (532, 258, '*'), (335, 500, '****')]:
    stars(dz(x), dy(y), s)
txt(dz(172), dy(1175), r'$\mathit{Trib2}$', size=20)
for zx, s in [(295, '+/+'), (380, '\u2013/\u2013'), (497, '+/+'), (580, '\u2013/\u2013')]:
    txt(dz(zx), dy(1186), s, size=20)
bracket(dz(275), dz(405), dy(1292), dy(1252))
bracket(dz(472), dz(602), dy(1292), dy(1252))
txt(dz(342), dy(1369), r'CD4$^{+}$', size=20)
txt(dz(342), dy(1466), 'T cells', size=20)
txt(dz(543), dy(1369), r'CD8$^{+}$', size=20)
txt(dz(543), dy(1466), 'T cells', size=20)

# panel E labels
txt(dz(963), dy(680), r'CD44$^{+}$ CD122$^{+}$ cells (%)', size=21, rotation=90)
for x0, x1, y, yl in [(1280, 1482, 243, 283), (1202, 1404, 358, 397), (1405, 1482, 492, 531), (1208, 1285, 648, 687)]:
    bracket(dz(x0), dz(x1), dy(y), dy(yl))
for x, y, s in [(1382, 208, '*'), (1310, 322, '****'), (1247, 612, '**')]:
    stars(dz(x), dy(y), s)
txt(dz(1440), dy(445), 'ns', size=20)
txt(dz(1085), dy(1180), r'$\mathit{Trib2}$', size=20)
for zx, s in [(1207, '+/+'), (1292, '\u2013/\u2013'), (1408, '+/+'), (1492, '\u2013/\u2013')]:
    txt(dz(zx), dy(1192), s, size=20)
bracket(dz(1188), dz(1317), dy(1297), dy(1257))
bracket(dz(1385), dz(1515), dy(1297), dy(1257))
txt(dz(1254), dy(1374), r'CD4$^{+}$', size=20)
txt(dz(1254), dy(1471), 'T cells', size=20)
txt(dz(1455), dy(1374), r'CD8$^{+}$', size=20)
txt(dz(1455), dy(1471), 'T cells', size=20)

# panel F labels
txt(316, 1665, r'$\mathit{Trib2}^{{+}/{+}}$ (CD4$^{+}$ T cells)', size=20)
txt(690, 1665, r'$\mathit{Trib2}^{{+}/{+}}$ (CD8$^{+}$ T cells)', size=20)
txt(1078, 1665, r'$\mathit{Trib2}^{{-}/{-}}$ (CD4$^{+}$ T cells)', size=20)
txt(1450, 1665, r'$\mathit{Trib2}^{{-}/{-}}$ (CD8$^{+}$ T cells)', size=20)
for x, y, s in [(328, 1766, '18.2'), (707, 1766, '49.6'), (1093, 1765, '38.6'), (1468, 1765, '42.8')]:
    txt(x, y, s)
txt(80, 1973, 'CD122', size=22, rotation=90)
arrow(79, 1913, 79, 1718)
txt(175, 2087, 'CD44', size=22)
arrow(247, 2088, 1626, 2088)

fig.savefig('out.png', dpi=100)
